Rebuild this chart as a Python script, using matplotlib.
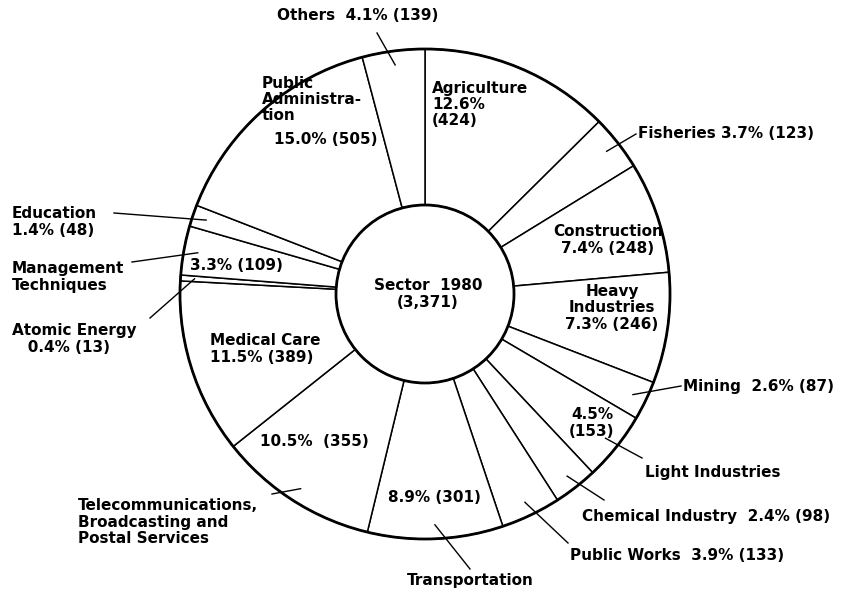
import matplotlib.pyplot as plt
from matplotlib.patches import Circle
import numpy as np

sectors = ["Agriculture", "Fisheries", "Construction", "Heavy Industries", "Mining",
           "Light Industries", "Chemical Industry", "Public Works", "Transportation",
           "Telecommunications", "Medical Care", "Atomic Energy", "Management Techniques",
           "Education", "Public Administration", "Others"]
counts = [424, 123, 248, 246, 87, 153, 98, 133, 301, 355, 389, 13, 109, 48, 505, 139]
total_label = "Sector  1980\n(3,371)"

plt.rcParams['font.family'] = ['DejaVu Sans']

cx, cy = 425, 294
R, r = 245, 89

fig = plt.figure(figsize=(8.48, 5.91), dpi=100)
ax = fig.add_axes([0, 0, 1, 1])

wedges, _ = ax.pie(counts, center=(cx, cy), radius=R, startangle=-90, counterclock=True,
                   colors=['white'] * len(counts),
                   wedgeprops=dict(width=R - r, edgecolor='black', linewidth=1.1))
ax.set_xlim(0, 848)
ax.set_ylim(591, 0)
ax.set_aspect('equal')
ax.axis('off')
ax.add_patch(Circle((cx, cy), R, fill=False, lw=2.0, ec='black'))
ax.add_patch(Circle((cx, cy), r, fill=False, lw=2.0, ec='black'))


def ring_pt(name, rad):
    w = wedges[sectors.index(name)]
    a = np.deg2rad((w.theta1 + w.theta2) / 2)
    return cx + rad * np.cos(a), cy + rad * np.sin(a)


kw = dict(fontsize=11, fontweight='bold', color='black', linespacing=1.1)

# labels inside the ring
ax.text(432, 81, "Agriculture\n12.6%\n(424)", va='top', ha='left', **kw)
ax.text(608, 240, "Construction\n7.4% (248)", va='center', ha='center', **kw)
ax.text(612, 308, "Heavy\nIndustries\n7.3% (246)", va='center', ha='center', **kw)
ax.text(592, 423, "4.5%\n(153)", va='center', ha='center', **kw)
ax.text(434, 497, "8.9% (301)", va='center', ha='center', **kw)
ax.text(314, 442, "10.5%  (355)", va='center', ha='center', **kw)
ax.text(210, 349, "Medical Care\n11.5% (389)", va='center', ha='left', **kw)
ax.text(190, 266, "3.3% (109)", va='center', ha='left', **kw)
ax.text(262, 76, "Public\nAdministra-\ntion", va='top', ha='left', **kw)
ax.text(274, 140, "15.0% (505)", va='center', ha='left', **kw)
ax.text(cx + 3, 294, total_label, va='center', ha='center', **kw)

# labels outside the ring, with leader lines
outside = [
    ("Others", "Others  4.1% (139)", (358, 16), 'center', (377, 33)),
    ("Fisheries", "Fisheries 3.7% (123)", (638, 134), 'left', (636, 134)),
    ("Mining", "Mining  2.6% (87)", (683, 386), 'left', (681, 386)),
    ("Light Industries", "Light Industries", (645, 472), 'left', (642, 458)),
    ("Chemical Industry", "Chemical Industry  2.4% (98)", (582, 516), 'left', (604, 500)),
    ("Public Works", "Public Works  3.9% (133)", (570, 556), 'left', (568, 543)),
    ("Transportation", "Transportation", (470, 580), 'center', (470, 569)),
    ("Telecommunications", "Telecommunications,\nBroadcasting and\nPostal Services",
     (78, 522), 'left', (272, 494)),
    ("Atomic Energy", "Atomic Energy\n   0.4% (13)", (12, 339), 'left', (150, 318)),
    ("Management Techniques", "Management\nTechniques", (12, 277), 'left', (132, 262)),
    ("Education", "Education\n1.4% (48)", (12, 222), 'left', (114, 213)),
]
for name, label, (tx, ty), ha, (lx, ly) in outside:
    ax.text(tx, ty, label, va='center', ha=ha, **kw)
    px, py = ring_pt(name, R - 14)
    ax.plot([lx, px], [ly, py], color='black', lw=1.0)

fig.savefig("out.png", dpi=100, facecolor='white')
